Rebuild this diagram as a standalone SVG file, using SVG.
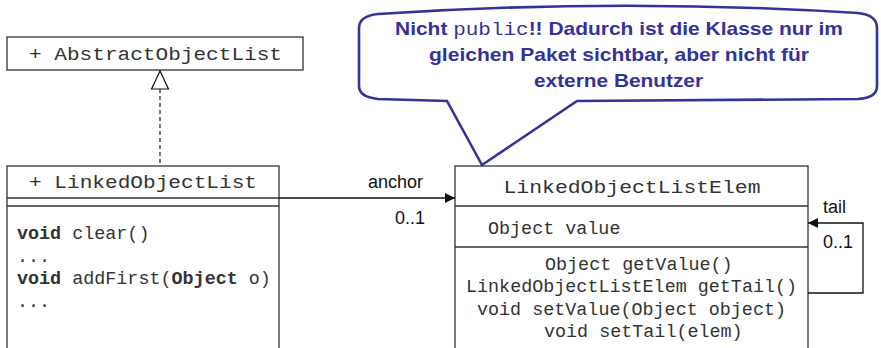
<svg xmlns="http://www.w3.org/2000/svg" width="881" height="348" viewBox="0 0 881 348">
<defs>
<style>
.box{fill:#fff;stroke:#333;stroke-width:1.3}
.sep{stroke:#333;stroke-width:1.3;fill:none}
.mono{font-family:"Liberation Mono","Courier New",monospace;fill:#333}
.title{font-size:19px}
.body{font-size:18.4px}
.lbl{font-family:"Liberation Sans",Arial,sans-serif;font-size:18px;fill:#111}
.conn{stroke:#111;stroke-width:1.3;fill:none}
.note{font-family:"Liberation Sans",Arial,sans-serif;font-weight:bold;font-size:19px;fill:#333399}
</style>
<marker id="arr" markerWidth="11" markerHeight="10" refX="10" refY="5" orient="auto" markerUnits="userSpaceOnUse">
<path d="M0,0 L10,5 L0,10 Z" fill="#111"/>
</marker>
</defs>

<g id="callout">
<path d="M359,28 Q359,16 378,14 Q618,-2 858,13 Q877,15 877,28 L877,86 Q877,98 858,99 L577,101 L482,165 L447,101 L378,99 Q359,97 359,86 Z" fill="#fff" stroke="#333399" stroke-width="2.6" stroke-linejoin="miter"/>
<text class="note" x="619" y="35" text-anchor="middle" textLength="448" lengthAdjust="spacingAndGlyphs">Nicht <tspan font-family="Liberation Mono, Courier New, monospace" font-weight="normal">public</tspan>!! Dadurch ist die Klasse nur im</text>
<text class="note" x="619" y="61" text-anchor="middle" textLength="380" lengthAdjust="spacingAndGlyphs">gleichen Paket sichtbar, aber nicht für</text>
<text class="note" x="618.5" y="87" text-anchor="middle" textLength="169" lengthAdjust="spacingAndGlyphs">externe Benutzer</text>
</g>

<g id="AbstractObjectList">
<rect class="box" x="7" y="37" width="296" height="33"/>
<text class="mono title" x="155.5" y="60" text-anchor="middle" textLength="253" lengthAdjust="spacingAndGlyphs">+ AbstractObjectList</text>
</g>

<g id="LinkedObjectList">
<rect class="box" x="7" y="166" width="272" height="200"/>
<line class="sep" x1="7" y1="198" x2="279" y2="198"/>
<line class="sep" x1="7" y1="206" x2="279" y2="206"/>
<text class="mono title" x="143" y="188" text-anchor="middle" textLength="228" lengthAdjust="spacingAndGlyphs">+ LinkedObjectList</text>
<text class="mono body" x="17" y="239"><tspan font-weight="bold">void</tspan> clear()</text>
<text class="mono body" x="17" y="262">...</text>
<text class="mono body" x="17" y="284"><tspan font-weight="bold">void</tspan> addFirst(<tspan font-weight="bold">Object</tspan> o)</text>
<text class="mono body" x="17" y="307">...</text>
</g>

<g id="LinkedObjectListElem">
<rect class="box" x="455" y="166" width="353" height="200"/>
<line class="sep" x1="455" y1="206" x2="808" y2="206"/>
<line class="sep" x1="455" y1="247" x2="808" y2="247"/>
<text class="mono title" x="632" y="193" text-anchor="middle" textLength="257" lengthAdjust="spacingAndGlyphs">LinkedObjectListElem</text>
<text class="mono body" x="488" y="234">Object value</text>
<text class="mono body" x="545" y="270">Object getValue()</text>
<text class="mono body" x="466" y="292">LinkedObjectListElem getTail()</text>
<text class="mono body" x="477" y="315">void setValue(Object object)</text>
<text class="mono body" x="544" y="337">void setTail(elem)</text>
</g>

<g id="connectors">
<line x1="160" y1="89" x2="160" y2="166" stroke="#111" stroke-width="1.2" stroke-dasharray="4,3"/>
<path d="M160,71 L151.5,89 L168.5,89 Z" fill="#fff" stroke="#111" stroke-width="1.2"/>
<line class="conn" x1="279" y1="198" x2="455" y2="198" marker-end="url(#arr)"/>
<text class="lbl" x="368" y="188">anchor</text>
<text class="lbl" x="395" y="224">0..1</text>
<polyline class="conn" points="808,293 863,293 863,223 808,223" marker-end="url(#arr)"/>
<text class="lbl" x="823" y="213">tail</text>
<text class="lbl" x="823" y="248">0..1</text>
</g>
</svg>
